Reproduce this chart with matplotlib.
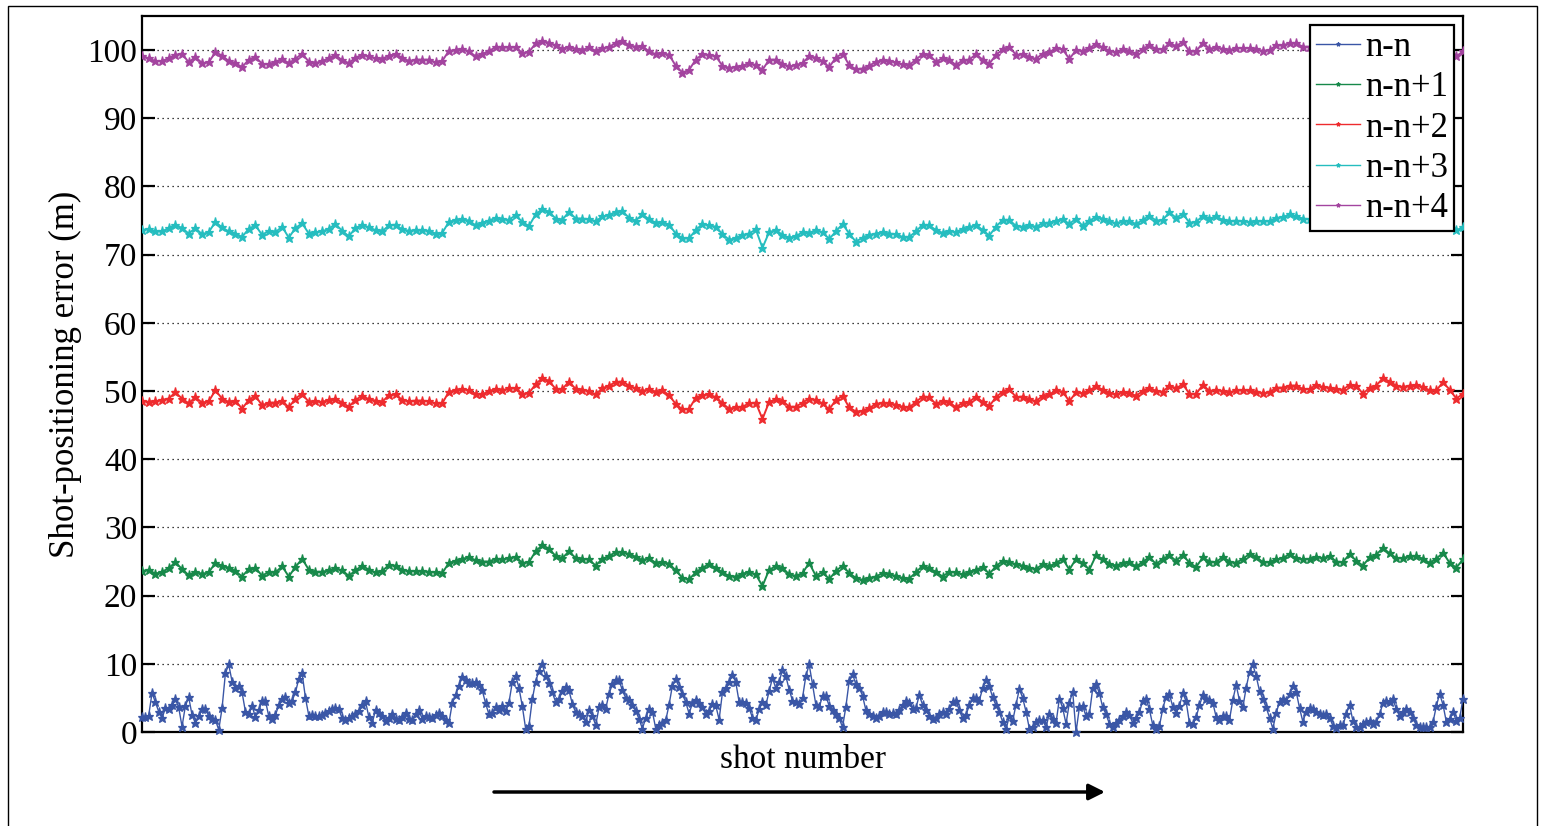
import numpy as np
import matplotlib
matplotlib.use("Agg")
import matplotlib.pyplot as plt
from matplotlib.patches import Rectangle

# Shot-positioning error (m) per shot for each pairing
series_labels = ["n-n", "n-n+1", "n-n+2", "n-n+3", "n-n+4"]

err_nn = [
    2.2, 2.2, 2.4, 5.7, 4.4, 3.0, 2.0, 3.5, 3.4, 4.0,
    4.8, 3.6, 0.8, 3.8, 5.1, 2.5, 1.3, 2.3, 3.4, 3.4,
    2.3, 1.9, 1.8, 0.3, 3.5, 8.6, 9.9, 7.4, 6.4, 6.7,
    5.8, 3.0, 2.6, 3.8, 2.2, 3.2, 4.5, 4.6, 2.3, 1.9,
    2.5, 3.9, 4.8, 5.1, 4.2, 4.6, 5.8, 7.8, 8.6, 5.0,
    2.4, 2.5, 2.4, 2.4, 2.5, 2.8, 3.1, 3.4, 3.5, 3.3,
    2.0, 1.8, 2.1, 2.4, 2.7, 3.1, 4.0, 4.5, 2.2, 1.3,
    3.2, 2.8, 2.4, 1.6, 2.1, 2.7, 1.9, 1.8, 2.2, 2.8,
    1.9, 1.8, 2.6, 3.2, 1.9, 2.3, 2.2, 2.1, 2.5, 2.8,
    2.4, 1.8, 1.3, 4.2, 5.4, 6.8, 8.0, 7.6, 7.2, 7.2,
    7.4,
    6.9, 6.1, 4.2, 2.6, 2.8, 3.6, 3.2, 3.8, 3.1, 4.3,
    7.3, 8.2, 6.5, 3.8, 0.5, 0.9, 4.8, 7.4, 9.0, 9.9,
    8.2, 7.2, 5.8, 4.4, 4.8, 6.0, 6.6, 6.1, 4.1, 2.9,
    2.6, 2.4, 1.5, 3.2, 2.4, 1.0, 3.6, 3.9, 3.4, 5.6,
    7.0, 7.6, 7.6, 6.1, 5.0, 4.7, 4.0, 3.1, 1.9, 0.5,
    2.0, 3.4, 3.0, 0.5, 1.0, 1.3, 1.7, 4.0, 6.8, 7.7,
    6.6, 5.5, 4.4, 2.7, 4.2, 4.7, 4.2, 3.6, 2.6, 3.1,
    4.1, 3.9, 1.8, 5.8, 6.5, 7.3, 8.4, 7.3, 4.4, 4.4,
    4.3, 3.5, 2.1, 1.7, 3.3, 4.4, 3.9, 6.0, 7.9, 6.4,
    7.4, 9.1, 8.2, 6.2, 4.6, 4.4, 4.1, 5.0, 8.2, 9.9,
    7.0, 4.0, 3.6, 5.3, 5.3, 3.8, 3.2, 2.6, 2.0, 0.7,
    3.7, 7.5, 8.5, 7.0, 6.5, 5.3, 3.2, 2.7, 2.4, 2.0,
    2.4, 3.0, 2.9, 2.6, 2.8, 2.7, 3.2, 3.9, 4.5, 4.3,
    3.4, 3.5, 5.4, 4.0, 3.2, 2.4, 1.9, 2.1, 2.7, 3.0,
    2.6, 3.3, 4.4, 4.5, 3.2, 2.0, 2.5, 3.9, 5.0, 5.0,
    4.6, 6.4, 7.6, 6.7, 5.1, 3.9, 2.9, 1.5, 0.4, 2.3,
    1.6, 4.0, 6.3, 5.0, 3.0, 0.5, 0.8, 1.5, 1.8, 1.7,
    0.7, 2.7, 1.9, 1.3, 4.9, 3.5, 1.2, 4.3, 5.9, 0.0,
    3.6, 3.8, 2.3, 2.6, 6.4, 7.0, 5.7, 3.6, 2.6, 1.2,
    0.7, 1.3, 1.7, 2.4, 3.0, 2.5, 1.3, 2.0, 2.9,
    4.6, 4.8, 3.3, 1.0, 0.5, 0.9, 3.4, 5.2, 5.5, 3.7,
    2.8, 3.8, 5.7, 4.5, 1.3, 1.1, 2.2, 3.9, 5.4, 4.9,
    4.7, 4.3, 2.2, 1.7, 2.3, 2.3, 1.8, 4.7, 6.9, 4.6,
    3.6, 6.5, 8.8, 9.9, 8.2, 6.0, 4.8, 3.6, 2.1, 0.5,
    2.8, 4.4, 4.8, 4.6, 5.5, 6.8, 5.9, 3.5, 1.5, 3.0,
    3.5, 3.4, 3.0, 2.6, 2.5, 2.6, 2.1, 0.9, 0.6, 1.0,
    1.0, 2.6, 4.0, 1.6, 0.7, 0.7, 1.1, 1.5, 1.6, 1.1,
    1.4, 2.6, 4.2, 4.5, 4.4, 4.8, 3.4, 2.3, 3.0, 3.4,
    3.0, 2.0, 1.0, 0.7, 0.7, 0.7, 0.7, 1.4, 3.8, 5.6,
    4.0, 1.5, 1.9, 3.0, 1.6, 2.0, 4.9,
]

err_nn1 = [
    23.6, 23.8, 23.2, 23.5, 24.0, 24.9, 23.9, 23.0, 23.5, 23.2,
    23.4, 24.8, 24.4, 24.1, 23.6, 22.8, 23.9, 24.1, 22.9, 23.5,
    23.4, 24.3, 22.8, 24.2, 25.4, 23.8, 23.5, 23.5, 23.7, 24.0,
    23.7, 22.9, 23.7, 24.4, 23.8, 23.4, 23.6, 24.5, 24.4, 23.8,
    23.6, 23.6, 23.6, 23.5, 23.4, 23.3, 24.8, 25.1, 25.4, 25.6,
    25.2, 25.0, 25.0, 25.4, 25.3, 25.5, 25.7, 24.8, 24.9, 26.5,
    27.4, 26.9, 25.8, 25.5, 26.5, 25.5, 25.4, 25.3, 24.4, 25.4,
    25.8, 26.4, 26.4, 26.1, 25.7, 25.2, 25.5, 24.8, 24.9, 24.7,
    23.7, 22.6, 22.4, 23.4, 24.1, 24.6, 24.1, 23.4, 22.9, 22.8,
    23.2, 23.5, 23.1, 21.4, 23.8, 24.3, 24.1, 23.1, 22.9, 23.3,
    24.8, 22.9, 23.5, 22.4, 23.6, 24.4, 23.3, 22.6, 22.3, 22.6,
    22.8, 23.3, 23.1, 22.9, 22.6, 22.5, 23.4, 24.4, 24.0, 23.5,
    22.8, 23.5, 23.4, 23.1, 23.5, 23.8, 24.2, 23.2, 24.3, 25.1,
    24.9, 24.6, 24.4, 24.1, 23.9, 24.6, 24.3, 24.8, 25.4, 23.8,
    25.4, 24.8, 23.8, 25.9, 25.4, 24.7, 24.4, 24.8, 24.9, 24.3,
    24.9, 25.7, 24.6, 25.4, 25.9, 25.1, 26.0, 24.8, 24.2, 25.6,
    25.0, 24.9, 25.7, 25.0, 24.8, 25.4, 26.1, 25.7, 24.9, 24.9,
    25.3, 25.5, 26.1, 25.5, 25.3, 25.4, 25.7, 25.5, 25.8, 25.0,
    24.9, 26.1, 25.1, 24.4, 25.6, 26.0, 27.0, 26.2, 25.5, 25.5,
    25.8, 25.8, 25.4, 24.8, 25.4, 26.3, 24.8, 24.1, 25.3,
]

err_nn2 = [
    48.6, 48.4, 48.5, 48.7, 48.9, 49.8, 48.9, 48.2, 49.1, 48.3,
    48.5, 50.1, 48.9, 48.4, 48.6, 47.4, 48.7, 49.3, 47.9, 48.3,
    48.3, 48.6, 47.6, 48.9, 49.6, 48.4, 48.5, 48.4, 48.7, 48.9,
    48.3, 47.7, 48.7, 49.3, 48.8, 48.6, 48.4, 49.4, 49.5, 48.7,
    48.5, 48.6, 48.6, 48.5, 48.2, 48.2, 49.9, 50.1, 50.3, 50.1,
    49.6, 49.5, 50.0, 50.3, 50.1, 50.4, 50.4, 49.6, 49.7, 51.0,
    51.9, 51.5, 50.3, 50.3, 51.4, 50.3, 50.2, 50.0, 49.5, 50.4,
    50.8, 51.3, 51.4, 50.8, 50.4, 50.0, 50.3, 49.9, 50.1, 49.4,
    48.1, 47.3, 47.4, 49.0, 49.4, 49.5, 49.1, 48.2, 47.4, 47.6,
    47.7, 48.2, 48.3, 45.9, 48.4, 48.8, 48.6, 47.7, 47.7, 48.3,
    48.9, 48.7, 48.2, 47.3, 48.7, 49.3, 47.6, 47.0, 47.1, 47.5,
    48.1, 48.3, 48.2, 48.0, 47.7, 47.6, 48.4, 49.2, 49.1, 48.1,
    48.6, 48.4, 47.6, 48.3, 48.4, 49.2, 48.4, 47.8, 49.1, 49.9,
    50.3, 49.1, 49.2, 48.8, 48.5, 49.3, 49.5, 50.1, 49.9, 48.5,
    49.8, 49.7, 50.1, 50.7, 50.2, 49.7, 49.5, 49.9, 49.7, 49.3,
    50.0, 50.5, 50.0, 49.9, 50.8, 50.4, 51.0, 49.6, 49.6, 50.9,
    50.0, 50.2, 50.0, 49.8, 50.1, 50.1, 50.1, 49.9, 49.7, 49.8,
    50.5, 50.5, 50.8, 50.8, 50.3, 50.3, 50.9, 50.6, 50.5, 50.3,
    50.2, 50.9, 50.8, 49.6, 50.5, 50.8, 51.9, 51.4, 50.8, 50.6,
    50.8, 50.9, 50.6, 50.1, 50.1, 51.3, 50.2, 48.9, 49.6,
]

err_nn3 = [
    73.6, 73.8, 73.4, 73.4, 73.9, 74.4, 73.9, 73.1, 73.9, 73.0,
    73.3, 74.8, 74.0, 73.4, 73.1, 72.6, 73.8, 74.3, 72.9, 73.5,
    73.3, 74.1, 72.5, 73.9, 74.6, 73.1, 73.3, 73.4, 73.8, 74.5,
    73.5, 72.7, 73.9, 74.4, 74.0, 73.6, 73.4, 74.3, 74.4, 73.7,
    73.5, 73.6, 73.6, 73.5, 73.1, 73.2, 74.8, 75.1, 75.2, 75.0,
    74.3, 74.7, 75.0, 75.4, 75.2, 75.1, 75.8, 74.8, 74.2, 75.9,
    76.7, 76.3, 75.3, 75.1, 76.3, 75.3, 75.3, 75.2, 74.9, 75.6,
    75.8, 76.3, 76.4, 75.4, 75.0, 75.9, 75.2, 74.7, 74.8, 74.4,
    73.1, 72.4, 72.4, 73.6, 74.5, 74.3, 74.1, 73.0, 72.2, 72.4,
    72.9, 73.1, 73.7, 71.0, 73.3, 73.6, 72.9, 72.5, 72.7, 73.3,
    73.2, 73.6, 73.3, 72.3, 73.4, 74.5, 73.1, 71.9, 72.5, 72.9,
    73.1, 73.3, 73.1, 73.0, 72.6, 72.6, 73.4, 74.4, 74.3, 73.6,
    73.2, 73.5, 73.3, 73.8, 74.0, 74.4, 73.6, 72.8, 74.1, 75.1,
    75.1, 74.2, 74.1, 74.3, 74.1, 74.6, 74.7, 75.0, 75.2, 74.5,
    75.3, 74.2, 75.0, 75.5, 75.3, 74.9, 74.6, 74.9, 74.9, 74.5,
    75.1, 75.7, 75.0, 75.1, 76.2, 75.4, 76.0, 74.7, 74.8, 75.7,
    75.3, 75.6, 75.1, 74.9, 75.0, 74.9, 74.8, 74.9, 74.9, 74.9,
    75.4, 75.5, 75.9, 75.6, 75.3, 75.2, 75.6, 75.4, 75.2, 75.0,
    75.0, 75.6, 75.5, 74.5, 75.2, 75.5, 76.4, 76.0, 75.5, 75.3,
    75.4, 75.5, 75.3, 74.9, 74.8, 75.8, 75.0, 73.6, 74.0,
]

err_nn4 = [
    99.1, 98.8, 98.4, 98.4, 98.8, 99.3, 99.5, 98.2, 99.0, 98.1,
    98.2, 99.7, 99.2, 98.4, 98.1, 97.5, 98.6, 99.0, 98.0, 97.9,
    98.3, 98.7, 98.1, 98.7, 99.5, 98.3, 98.1, 98.4, 98.8, 99.3,
    98.5, 98.1, 98.9, 99.3, 99.1, 98.8, 98.7, 99.2, 99.4, 98.9,
    98.4, 98.6, 98.6, 98.6, 98.2, 98.4, 99.9, 100.0, 100.2, 99.8,
    99.1, 99.4, 99.9, 100.4, 100.4, 100.4, 100.4, 99.6, 99.7, 101.0,
    101.3, 101.1, 100.7, 100.2, 100.5, 100.2, 100.0, 100.4, 99.9, 100.3,
    100.4, 101.1, 101.4, 100.7, 100.5, 100.6, 99.8, 99.4, 99.6, 99.3,
    97.7, 96.7, 97.1, 98.6, 99.4, 99.3, 99.1, 97.7, 97.4, 97.5,
    97.7, 98.1, 97.8, 97.1, 98.6, 98.6, 98.0, 97.6, 97.8, 98.1,
    99.1, 98.9, 98.4, 97.5, 98.9, 99.5, 97.8, 97.2, 97.3, 97.7,
    98.3, 98.5, 98.4, 98.2, 97.9, 97.8, 98.6, 99.4, 99.3, 98.3,
    98.8, 98.6, 97.8, 98.5, 98.6, 99.4, 98.6, 98.0, 99.3, 100.1,
    100.5, 99.3, 99.4, 99.0, 98.7, 99.5, 99.7, 100.3, 100.1, 98.7,
    100.0, 99.9, 100.3, 100.9, 100.4, 99.9, 99.7, 100.1, 99.9, 99.5,
    100.2, 100.7, 100.2, 100.1, 101.0, 100.6, 101.2, 99.8, 99.8, 101.1,
    100.2, 100.4, 100.2, 100.0, 100.3, 100.3, 100.3, 100.1, 99.9, 100.0,
    100.7, 100.7, 101.0, 101.0, 100.5, 100.5, 101.1, 100.8, 100.7, 100.5,
    100.4, 101.1, 101.0, 99.8, 100.7, 101.0, 102.1, 101.6, 101.0, 100.8,
    101.0, 101.1, 100.8, 100.3, 100.3, 101.5, 100.4, 99.1, 99.8,
]

y_ticks = [0, 10, 20, 30, 40, 50, 60, 70, 80, 90, 100]

colors = ["#3a56a6", "#17894a", "#ee2b2e", "#25bdbf", "#a3449f"]

plt.rcParams["font.family"] = ["Liberation Serif", "DejaVu Serif"]

fig = plt.figure(figsize=(15.45, 8.26), dpi=100)
ax = fig.add_axes([142 / 1545, 1 - 732 / 826, 1321 / 1545, 716 / 826])

# n-n is sampled every shot; the longer baselines every second shot
shots_nn = np.arange(len(err_nn))
lines = []
ln, = ax.plot(shots_nn, err_nn, color=colors[0], lw=1.0, marker="*",
              ms=6.5, mew=0.9, label=series_labels[0], clip_on=False, zorder=3)
lines.append(ln)
for vals, col, lab in zip([err_nn1, err_nn2, err_nn3, err_nn4],
                          colors[1:], series_labels[1:]):
    shots = np.arange(0, 2 * len(vals), 2)
    ln, = ax.plot(shots, vals, color=col, lw=1.4, marker="*", ms=6.5,
                  mew=0.9, label=lab, zorder=3)
    lines.append(ln)

ax.set_xlim(0, len(err_nn) - 1)
ax.set_ylim(0, 105)
ax.set_yticks(y_ticks)
ax.set_xticks([])
ax.set_axisbelow(True)
ax.yaxis.grid(True, linestyle=(0, (1, 3)), color="k", lw=0.9)

ax.tick_params(axis="y", direction="in", length=9, width=1.6,
               right=True, labelsize=24, pad=3.5)
for sp in ax.spines.values():
    sp.set_linewidth(1.6)

ax.set_xlabel("shot number", fontsize=24, labelpad=9)
ax.set_ylabel("Shot-positioning error (m)", fontsize=25, labelpad=4)

leg = ax.legend(handles=lines, loc="upper right", fontsize=25,
                frameon=True, fancybox=False, edgecolor="k", framealpha=1,
                borderpad=0.18, labelspacing=0.21, handlelength=1.25,
                handletextpad=0.15, borderaxespad=0.25, markerscale=0.45)
leg.get_frame().set_linewidth(1.6)
for h in leg.get_lines():
    h.set_linewidth(1.0)

# direction arrow beneath the axis label
ax.annotate("", xy=(1105 / 1545, 1 - 792 / 826),
            xytext=(494 / 1545, 1 - 792 / 826),
            xycoords="figure fraction", textcoords="figure fraction",
            arrowprops=dict(arrowstyle="-|>", color="k", lw=2.5,
                            mutation_scale=24, shrinkA=0, shrinkB=0),
            annotation_clip=False)

# thin frame around the whole figure
fig.patches.append(Rectangle((8 / 1545, -0.01), 1529 / 1545, 820 / 826 + 0.01,
                             transform=fig.transFigure, fill=False,
                             edgecolor="k", lw=1.0))

fig.savefig("out.png", dpi=100)
